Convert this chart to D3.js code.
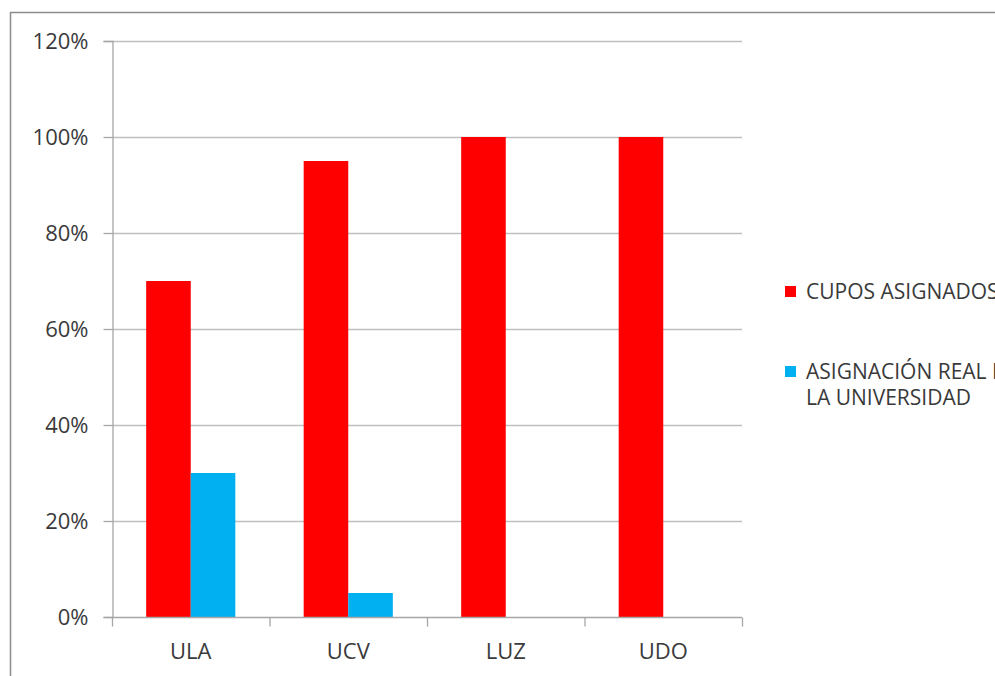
<!DOCTYPE html>
<html>
<head>
<meta charset="utf-8">
<script src="https://cdn.jsdelivr.net/npm/d3@7"></script>
<style>
  body { margin: 0; background: #fff; overflow: hidden; }
  svg { display: block; font-family: "Open Sans", sans-serif; }
</style>
</head>
<body>
<script>
// Chart data
const categories = ["ULA", "UCV", "LUZ", "UDO"];
const cupos = [0.70, 0.95, 1.00, 1.00];
const asignacion = [0.30, 0.05, 0, 0];
const seriesNames = ["CUPOS ASIGNADOS", ["ASIGNACIÓN REAL DE", "LA UNIVERSIDAD"]];
const seriesColors = ["#ff0000", "#00b0f0"];
const yTicks = [0, 0.2, 0.4, 0.6, 0.8, 1.0, 1.2];

const width = 995, height = 676;
const svg = d3.select("body").append("svg")
  .attr("width", width).attr("height", height);

// outer chart frame
svg.append("rect")
  .attr("x", 10.5).attr("y", 12.5)
  .attr("width", 1200).attr("height", 1000)
  .attr("fill", "#fff").attr("stroke", "#8c8c8c").attr("stroke-width", 1.5);

const plotLeft = 112, plotRight = 742, plotTop = 41, plotBottom = 617;

const x = d3.scaleBand().domain(categories).range([plotLeft, plotRight]);
const y = d3.scaleLinear().domain([0, 1.2]).range([plotBottom, plotTop]);
const barW = x.bandwidth() * 0.283;

// gridlines
svg.append("g")
  .selectAll("line").data(yTicks.slice(1)).enter().append("line")
  .attr("x1", plotLeft).attr("x2", plotRight)
  .attr("y1", d => y(d) + 0.5).attr("y2", d => y(d) + 0.5)
  .attr("stroke", "#bfbfbf").attr("stroke-width", 1.3);

// bars
const rows = categories.map((c, i) => ({ c, vals: [cupos[i], asignacion[i]] }));
const g = svg.append("g");
rows.forEach(r => {
  r.vals.forEach((v, k) => {
    const cx = x(r.c) + x.bandwidth() / 2;
    g.append("rect")
      .attr("x", cx - barW + k * barW)
      .attr("y", y(v))
      .attr("width", barW)
      .attr("height", plotBottom - y(v))
      .attr("fill", seriesColors[k]);
  });
});

// y axis
const yAxis = svg.append("g")
  .attr("transform", `translate(${plotLeft + 0.5},0)`)
  .call(d3.axisLeft(y).tickValues(yTicks).tickFormat(d3.format(".0%")).tickSize(9).tickPadding(15));
yAxis.select(".domain").attr("stroke", "#a6a6a6").attr("stroke-width", 1.3);
yAxis.selectAll(".tick line").attr("stroke", "#a6a6a6").attr("stroke-width", 1.3);
yAxis.selectAll("text").attr("fill", "#3a3a3a").style("font-size", "22px")
  .style("font-family", "'Open Sans', sans-serif");

// x axis
const xAxis = svg.append("g")
  .attr("transform", `translate(0,${plotBottom + 0.5})`)
  .call(d3.axisBottom(x).tickSize(0).tickPadding(26));
xAxis.select(".domain").attr("stroke", "#a6a6a6").attr("stroke-width", 1.3)
  .attr("d", `M${plotLeft},0H${plotRight}`);
xAxis.selectAll("text").attr("fill", "#3a3a3a").style("font-size", "22px")
  .style("font-family", "'Open Sans', sans-serif");
xAxis.append("g").selectAll("line")
  .data(categories.map(c => x(c)).concat([plotRight]))
  .enter().append("line")
  .attr("x1", d => d + 0.5).attr("x2", d => d + 0.5)
  .attr("y1", 0).attr("y2", 9)
  .attr("stroke", "#a6a6a6").attr("stroke-width", 1.3);

// legend
const legY = [292, 372];
seriesNames.forEach((name, i) => {
  const lg = svg.append("g").attr("transform", `translate(785,${legY[i]})`);
  lg.append("rect").attr("x", 0).attr("y", -6).attr("width", 11).attr("height", 11)
    .attr("fill", seriesColors[i]);
  const lines = Array.isArray(name) ? name : [name];
  lines.forEach((t, j) => {
    lg.append("text").attr("x", 21).attr("y", j * 26)
      .attr("dy", "0.35em")
      .attr("fill", "#3a3a3a").style("font-size", "21px")
      .text(t);
  });
});
</script>
</body>
</html>
